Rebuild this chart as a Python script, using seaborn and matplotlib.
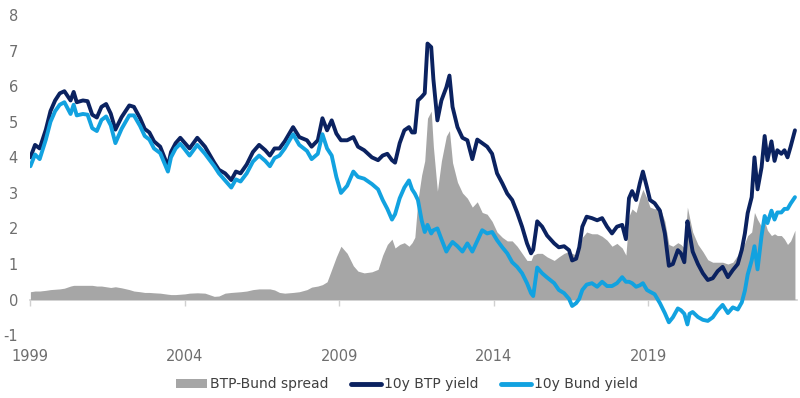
import numpy as np
import pandas as pd
import seaborn as sns
import matplotlib.pyplot as plt

# decimal years
years = [1999.00, 1999.15, 1999.30, 1999.50, 1999.65, 1999.80, 1999.95, 2000.10, 2000.30, 2000.40,
         2000.50, 2000.70, 2000.85, 2001.00, 2001.15, 2001.30, 2001.45, 2001.60, 2001.75, 2001.95,
         2002.20, 2002.35, 2002.55, 2002.70, 2002.85, 2003.00, 2003.20, 2003.45, 2003.55, 2003.70,
         2003.85, 2004.00, 2004.15, 2004.40, 2004.65, 2004.95, 2005.10, 2005.30, 2005.50, 2005.65,
         2005.80, 2006.00, 2006.20, 2006.40, 2006.60, 2006.75, 2006.90, 2007.06, 2007.23, 2007.50,
         2007.70, 2007.95, 2008.10, 2008.30, 2008.45, 2008.60, 2008.75, 2008.90, 2009.05, 2009.25,
         2009.45, 2009.60, 2009.80, 2010.05, 2010.25, 2010.40, 2010.55, 2010.70, 2010.80, 2010.95,
         2011.10, 2011.25, 2011.35, 2011.44, 2011.54, 2011.66, 2011.76, 2011.85, 2011.97, 2012.04,
         2012.17, 2012.30, 2012.46, 2012.56, 2012.66, 2012.82, 2012.98, 2013.14, 2013.30, 2013.46,
         2013.62, 2013.78, 2013.94, 2014.10, 2014.27, 2014.43, 2014.59, 2014.75, 2014.91, 2015.07,
         2015.20, 2015.27, 2015.40, 2015.56, 2015.72, 2015.95, 2016.10, 2016.27, 2016.43, 2016.53,
         2016.66, 2016.76, 2016.86, 2017.00, 2017.17, 2017.34, 2017.50, 2017.66, 2017.82, 2017.98,
         2018.15, 2018.27, 2018.37, 2018.47, 2018.60, 2018.72, 2018.82, 2018.95, 2019.05, 2019.20,
         2019.37, 2019.53, 2019.66, 2019.79, 2019.95, 2020.05, 2020.16, 2020.26, 2020.33, 2020.43,
         2020.60, 2020.76, 2020.92, 2021.08, 2021.24, 2021.40, 2021.57, 2021.73, 2021.89, 2022.02,
         2022.12, 2022.21, 2022.34, 2022.43, 2022.53, 2022.66, 2022.76, 2022.85, 2022.98, 2023.08,
         2023.17, 2023.30, 2023.40, 2023.50, 2023.60, 2023.74]

btp = [4.00, 4.35, 4.25, 4.78, 5.30, 5.60, 5.80, 5.86, 5.60, 5.84,
       5.55, 5.60, 5.58, 5.20, 5.12, 5.42, 5.50, 5.23, 4.78, 5.13,
       5.46, 5.42, 5.10, 4.80, 4.70, 4.45, 4.30, 3.75, 4.15, 4.40,
       4.55, 4.40, 4.25, 4.55, 4.30, 3.85, 3.65, 3.55, 3.36, 3.60,
       3.55, 3.80, 4.15, 4.35, 4.20, 4.05, 4.25, 4.25, 4.45, 4.85,
       4.57, 4.48, 4.30, 4.48, 5.10, 4.76, 5.04, 4.67, 4.48, 4.48,
       4.57, 4.30, 4.20, 4.00, 3.92, 4.05, 4.10, 3.92, 3.85, 4.40,
       4.76, 4.85, 4.70, 4.70, 5.60, 5.70, 5.80, 7.20, 7.10, 6.20,
       5.04, 5.60, 5.97, 6.30, 5.42, 4.85, 4.55, 4.48, 3.95, 4.50,
       4.40, 4.30, 4.10, 3.55, 3.27, 2.98, 2.80, 2.45, 2.05, 1.58,
       1.30, 1.40, 2.20, 2.05, 1.80, 1.58, 1.47, 1.50, 1.39, 1.10,
       1.15, 1.47, 2.05, 2.33, 2.29, 2.23, 2.29, 2.05, 1.86, 2.05,
       2.10, 1.70, 2.85, 3.05, 2.80, 3.27, 3.60, 3.16, 2.80, 2.71,
       2.50, 1.86, 0.95, 1.00, 1.39, 1.30, 1.05, 2.20, 1.86, 1.35,
       1.00, 0.74, 0.55, 0.60, 0.80, 0.92, 0.63, 0.83, 1.00, 1.40,
       1.86, 2.43, 2.88, 4.00, 3.10, 3.72, 4.60, 3.92, 4.45, 3.90,
       4.20, 4.10, 4.20, 4.00, 4.30, 4.76]

bund = [3.75, 4.08, 3.95, 4.50, 5.00, 5.30, 5.48, 5.55, 5.22, 5.48,
        5.18, 5.22, 5.20, 4.82, 4.74, 5.05, 5.15, 4.90, 4.40, 4.80,
        5.18, 5.18, 4.88, 4.60, 4.50, 4.25, 4.12, 3.60, 4.00, 4.25,
        4.38, 4.22, 4.05, 4.35, 4.10, 3.75, 3.55, 3.35, 3.15, 3.38,
        3.32, 3.55, 3.88, 4.05, 3.90, 3.75, 3.98, 4.05, 4.25, 4.65,
        4.35, 4.18, 3.95, 4.10, 4.65, 4.25, 4.05, 3.45, 3.00, 3.20,
        3.60, 3.45, 3.40, 3.25, 3.10, 2.80, 2.55, 2.25, 2.40, 2.85,
        3.15, 3.35, 3.10, 2.98, 2.80, 2.23, 1.90, 2.10, 1.86, 1.95,
        2.00, 1.70, 1.35, 1.50, 1.62, 1.50, 1.35, 1.58, 1.35, 1.65,
        1.95, 1.86, 1.90, 1.67, 1.47, 1.30, 1.05, 0.92, 0.74, 0.46,
        0.18, 0.10, 0.90, 0.74, 0.62, 0.46, 0.27, 0.18, 0.02, -0.18,
        -0.10, 0.02, 0.27, 0.42, 0.46, 0.36, 0.50, 0.38, 0.38, 0.46,
        0.63, 0.50, 0.50, 0.46, 0.36, 0.40, 0.46, 0.27, 0.22, 0.15,
        -0.10, -0.38, -0.64, -0.50, -0.25, -0.30, -0.40, -0.70, -0.40, -0.35,
        -0.49, -0.57, -0.60, -0.50, -0.30, -0.15, -0.38, -0.22, -0.28, -0.08,
        0.25, 0.70, 1.10, 1.50, 0.85, 1.80, 2.35, 2.15, 2.50, 2.25,
        2.45, 2.45, 2.55, 2.55, 2.70, 2.88]

spread = [0.22, 0.24, 0.24, 0.26, 0.28, 0.29, 0.30, 0.32, 0.38, 0.40,
          0.40, 0.40, 0.40, 0.40, 0.38, 0.38, 0.36, 0.34, 0.36, 0.33,
          0.28, 0.24, 0.22, 0.20, 0.20, 0.19, 0.18, 0.15, 0.14, 0.14,
          0.15, 0.16, 0.18, 0.19, 0.18, 0.09, 0.10, 0.18, 0.20, 0.21,
          0.22, 0.24, 0.28, 0.30, 0.30, 0.30, 0.27, 0.20, 0.18, 0.20,
          0.22, 0.28, 0.35, 0.38, 0.42, 0.50, 0.85, 1.20, 1.50, 1.30,
          0.95, 0.80, 0.75, 0.78, 0.85, 1.25, 1.55, 1.70, 1.45, 1.55,
          1.60, 1.50, 1.60, 1.75, 2.80, 3.50, 3.90, 5.10, 5.30, 4.30,
          3.05, 3.90, 4.60, 4.75, 3.85, 3.30, 3.00, 2.85, 2.60, 2.75,
          2.45, 2.40, 2.20, 1.90, 1.75, 1.65, 1.65, 1.50, 1.30, 1.10,
          1.10, 1.25, 1.30, 1.30, 1.20, 1.10, 1.20, 1.30, 1.35, 1.30,
          1.25, 1.45, 1.75, 1.90, 1.85, 1.85, 1.78, 1.67, 1.50, 1.58,
          1.45, 1.25, 2.35, 2.55, 2.45, 2.85, 3.10, 2.85, 2.60, 2.55,
          2.60, 2.20, 1.55, 1.50, 1.60, 1.55, 1.45, 2.60, 2.30, 1.90,
          1.55, 1.35, 1.12, 1.05, 1.05, 1.05, 1.00, 1.05, 1.25, 1.45,
          1.60, 1.80, 1.90, 2.45, 2.25, 2.05, 2.20, 1.95, 1.80, 1.85,
          1.80, 1.80, 1.70, 1.55, 1.65, 1.95]

tick_years = [1999, 2004, 2009, 2014, 2019]

df = pd.DataFrame({"year": years, "btp": btp, "bund": bund, "spread": spread})

sns.set_style("white")
plt.rcParams['font.family'] = ['Liberation Sans Narrow', 'DejaVu Sans']
plt.rcParams['axes.unicode_minus'] = False

fig = plt.figure(figsize=(8, 3.98), dpi=100)
ax = fig.add_axes([0.038, 0.158, 0.958, 0.804])

ax.fill_between(df["year"], 0, df["spread"], color="#a6a6a6", lw=0, label="BTP-Bund spread", zorder=1)
sns.lineplot(data=df, x="year", y="btp", ax=ax, color="#0b2260", lw=2.8, label="10y BTP yield", zorder=2)
sns.lineplot(data=df, x="year", y="bund", ax=ax, color="#12a2e0", lw=2.8, label="10y Bund yield", zorder=3)

ax.set_xlim(1999.0, 2023.8)
ax.set_ylim(-1, 8)
ax.set_yticks(range(-1, 9))
ax.set_xticks(tick_years)
ax.set_xticklabels([str(y) for y in tick_years])
ax.set_xlabel("")
ax.set_ylabel("")
for s in ax.spines.values():
    s.set_visible(False)
ax.tick_params(axis="both", length=0, labelsize=10.5, labelcolor="#6e6e6e")
ax.tick_params(axis="y", pad=9)
ax.tick_params(axis="x", pad=10)

# zero line with tick marks
sec = ax.secondary_xaxis(0, transform=ax.transData)
sec.set_xticks(tick_years)
sec.set_xticklabels([])
sec.tick_params(length=4, color="#d0d0d0", width=1)
sec.spines["bottom"].set_color("#d0d0d0")
sec.spines["bottom"].set_linewidth(1.2)

handles, labels = ax.get_legend_handles_labels()
ax.get_legend().remove()
leg = fig.legend(handles, labels, loc="lower center", bbox_to_anchor=(0.509, -0.015), ncol=3,
                 frameon=False, fontsize=10, handlelength=2.2, columnspacing=1.6, handletextpad=0.2)
for t in leg.get_texts():
    t.set_color("#404040")
for h in leg.legend_handles[1:]:
    h.set_linewidth(3.5)

fig.savefig("out.png", dpi=100)
